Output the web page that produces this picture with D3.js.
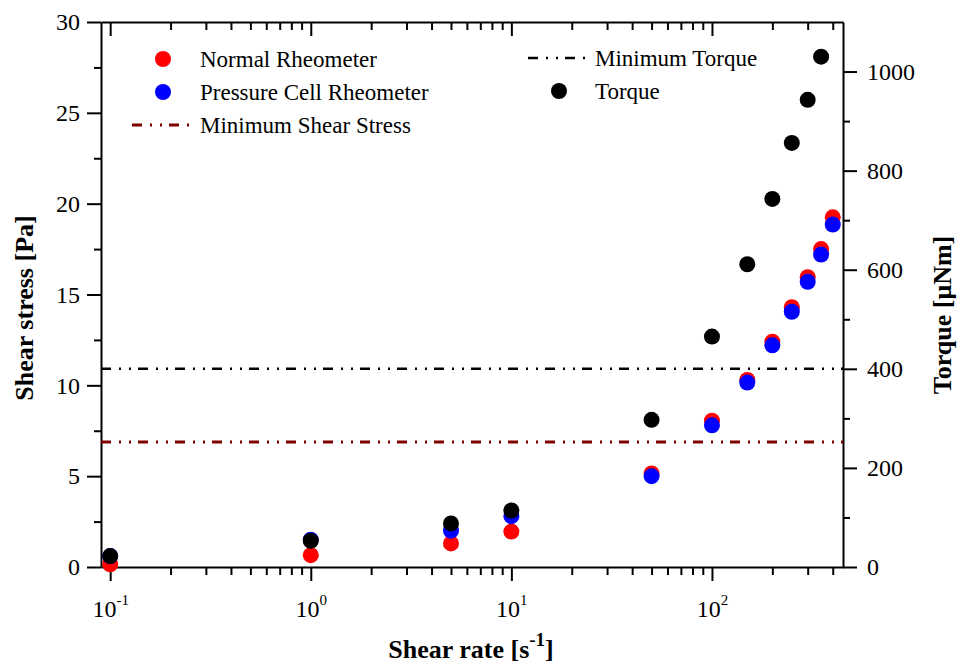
<!DOCTYPE html>
<html>
<head>
<meta charset="utf-8">
<script src="https://cdn.jsdelivr.net/npm/d3@7"></script>
<style>
  body { margin: 0; background: #fff; }
  svg { font-family: "Liberation Serif", "Times New Roman", serif; }
  .axis path, .axis line { stroke: #000; stroke-width: 2; }
  .axis text { font-size: 24px; fill: #000; font-family: "Liberation Serif", serif; }
  .title { font-size: 26px; font-weight: bold; font-family: "Liberation Serif", serif; }
  .legend text { font-size: 23px; font-family: "Liberation Serif", serif; }
</style>
</head>
<body>
<svg id="chart" width="963" height="666"></svg>
<script>
const shearRate = [0.1, 1, 5, 10, 50, 100, 150, 200, 250, 300, 350, 400];
const normalStress = [0.15, 0.65, 1.3, 1.95, 5.15, 8.05, 10.3, 12.4, 14.3, 15.95, 17.5, 19.25];
const pressureStress = [0.6, 1.5, 2.0, 2.8, 5.0, 7.8, 10.15, 12.2, 14.05, 15.7, 17.2, 18.85];
const torqueRate = [0.1, 1, 5, 10, 50, 100, 150, 200, 250, 300, 350];
const torque = [22, 53, 88, 114, 297, 465, 611, 743, 856, 943, 1030];
const minShearStress = 6.88;
const minTorque = 400;

const xMajor = [0.1, 1, 10, 100];
const xMinor = [0.2, 0.3, 0.4, 0.5, 0.6, 0.7, 0.8, 0.9, 2, 3, 4, 5, 6, 7, 8, 9,
  20, 30, 40, 50, 60, 70, 80, 90, 200, 300, 400];
const xLabels = [["10", "-1"], ["10", "0"], ["10", "1"], ["10", "2"]];
const yMajor = [0, 5, 10, 15, 20, 25, 30];
const yMinor = [2.5, 7.5, 12.5, 17.5, 22.5, 27.5];
const tMajor = [0, 200, 400, 600, 800, 1000];
const tMinor = [100, 300, 500, 700, 900];

const svg = d3.select("#chart");
const margin = { top: 22, right: 120, bottom: 99, left: 101 };
const W = 963, H = 666;
const iw = W - margin.left - margin.right;
const ih = H - margin.top - margin.bottom;

const x = d3.scaleLog().domain([0.09, 450]).range([0, iw]);
const y = d3.scaleLinear().domain([0, 30]).range([ih, 0]);
const yT = d3.scaleLinear().domain([0, 1100]).range([ih, 0]);

const g = svg.append("g").attr("transform", `translate(${margin.left},${margin.top})`);

function plain(sel) {
  sel.attr("font-family", null).attr("font-size", null);
}

// axes
const bottomAxis = g.append("g").attr("class", "axis").attr("transform", `translate(0,${ih})`);
bottomAxis.call(d3.axisBottom(x).tickValues(xMajor).tickSize(14).tickSizeOuter(0).tickFormat(""));
bottomAxis.append("g").call(d3.axisBottom(x).tickValues(xMinor).tickSize(8).tickSizeOuter(0).tickFormat(""))
  .select(".domain").remove();
bottomAxis.selectAll(".tick").filter(d => xMajor.includes(d)).each(function(d) {
  const i = xMajor.indexOf(d);
  const t = d3.select(this).append("text")
    .attr("y", 50).attr("text-anchor", "middle").attr("fill", "#000");
  t.append("tspan").text(xLabels[i][0]);
  t.append("tspan").attr("dy", -12).style("font-size", "15px").text(xLabels[i][1]);
});
plain(bottomAxis);

const topAxis = g.append("g").attr("class", "axis");
topAxis.call(d3.axisTop(x).tickValues(xMajor).tickSize(-14).tickSizeOuter(0).tickFormat(""));
topAxis.append("g").call(d3.axisTop(x).tickValues(xMinor).tickSize(-8).tickSizeOuter(0).tickFormat(""))
  .select(".domain").remove();

const leftAxis = g.append("g").attr("class", "axis");
leftAxis.call(d3.axisLeft(y).tickValues(yMajor).tickSize(14).tickSizeOuter(0).tickPadding(7));
leftAxis.append("g").call(d3.axisLeft(y).tickValues(yMinor).tickSize(7).tickSizeOuter(0).tickFormat(""))
  .select(".domain").remove();
plain(leftAxis);

const rightAxis = g.append("g").attr("class", "axis").attr("transform", `translate(${iw},0)`);
rightAxis.call(d3.axisRight(yT).tickValues(tMajor).tickSize(14).tickSizeOuter(0).tickPadding(10).tickFormat(d3.format("d")));
rightAxis.append("g").call(d3.axisRight(yT).tickValues(tMinor).tickSize(7).tickSizeOuter(0).tickFormat(""))
  .select(".domain").remove();
plain(rightAxis);

// reference lines
const dashes = "10,8,2,8,2,7";
g.append("line")
  .attr("x1", 0).attr("x2", iw)
  .attr("y1", y(minShearStress)).attr("y2", y(minShearStress))
  .attr("stroke", "#800000").attr("stroke-width", 3).attr("stroke-dasharray", dashes);
g.append("line")
  .attr("x1", 0).attr("x2", iw)
  .attr("y1", yT(minTorque)).attr("y2", yT(minTorque))
  .attr("stroke", "#000").attr("stroke-width", 2.5).attr("stroke-dasharray", dashes);

// points
const r = 8;
g.append("g").selectAll("circle").data(shearRate).join("circle")
  .attr("cx", d => x(d)).attr("cy", (d, i) => y(normalStress[i])).attr("r", r).attr("fill", "#ff0000");
g.append("g").selectAll("circle").data(shearRate).join("circle")
  .attr("cx", d => x(d)).attr("cy", (d, i) => y(pressureStress[i])).attr("r", r).attr("fill", "#0000ff");
g.append("g").selectAll("circle").data(torqueRate).join("circle")
  .attr("cx", d => x(d)).attr("cy", (d, i) => yT(torque[i])).attr("r", r).attr("fill", "#000");

// titles
svg.append("text").attr("class", "title")
  .attr("transform", "translate(33,308) rotate(-90)")
  .attr("text-anchor", "middle").text("Shear stress [Pa]");
svg.append("text").attr("class", "title")
  .attr("transform", "translate(951,315) rotate(-90)")
  .attr("text-anchor", "middle").text("Torque [\u03bcNm]");
const xt = svg.append("text").attr("class", "title")
  .attr("x", 471).attr("y", 658).attr("text-anchor", "middle");
xt.append("tspan").text("Shear rate [s");
xt.append("tspan").attr("dy", -12).style("font-size", "19px").text("-1");
xt.append("tspan").attr("dy", 12).text("]");

// legends
const legL = svg.append("g").attr("class", "legend");
const itemsL = [
  { label: "Normal Rheometer", type: "dot", color: "#ff0000" },
  { label: "Pressure Cell Rheometer", type: "dot", color: "#0000ff" },
  { label: "Minimum Shear Stress", type: "line", color: "#800000" }
];
itemsL.forEach((d, i) => {
  const yy = 59 + i * 33;
  if (d.type === "dot") {
    legL.append("circle").attr("cx", 163).attr("cy", yy).attr("r", r).attr("fill", d.color);
  } else {
    legL.append("line").attr("x1", 132).attr("x2", 190).attr("y1", yy).attr("y2", yy)
      .attr("stroke", d.color).attr("stroke-width", 3).attr("stroke-dasharray", dashes);
  }
  legL.append("text").attr("x", 200).attr("y", yy + 8).text(d.label);
});

const legR = svg.append("g").attr("class", "legend");
legR.append("line").attr("x1", 528).attr("x2", 586).attr("y1", 58).attr("y2", 58)
  .attr("stroke", "#000").attr("stroke-width", 2.5).attr("stroke-dasharray", dashes);
legR.append("text").attr("x", 595).attr("y", 66).text("Minimum Torque");
legR.append("circle").attr("cx", 559).attr("cy", 91).attr("r", r).attr("fill", "#000");
legR.append("text").attr("x", 595).attr("y", 99).text("Torque");
</script>
</body>
</html>
